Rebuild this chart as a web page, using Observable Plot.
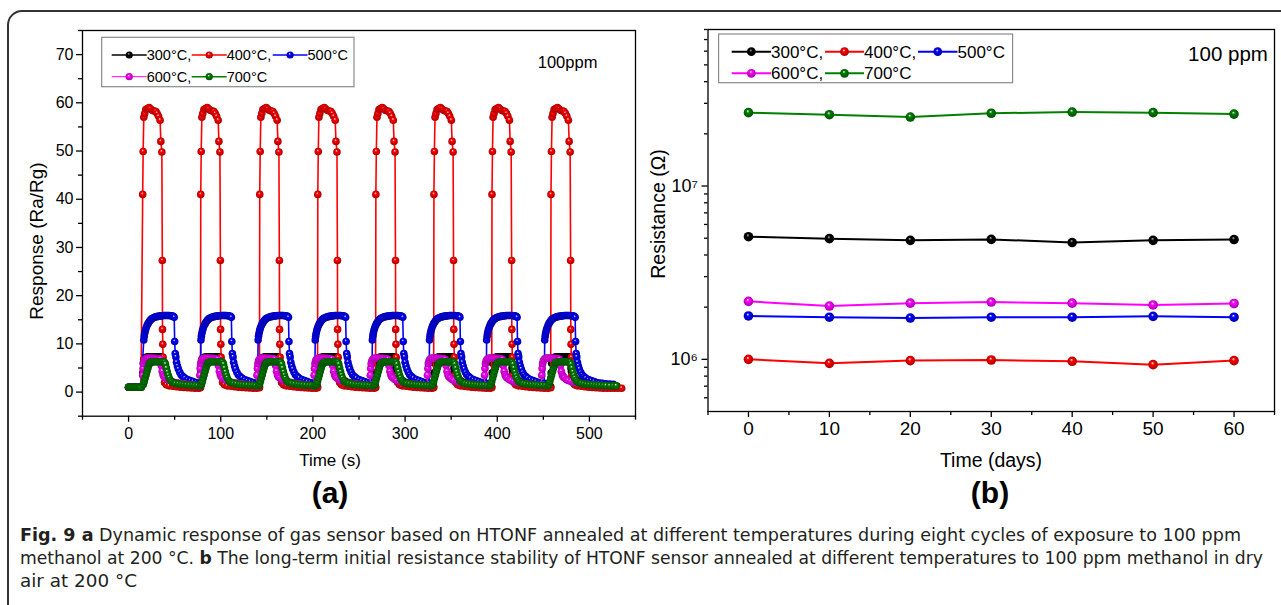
<!DOCTYPE html>
<html><head><meta charset="utf-8">
<script src="https://cdn.jsdelivr.net/npm/d3@7"></script>
<script src="https://cdn.jsdelivr.net/npm/@observablehq/plot@0.6"></script>
<style>
html,body{margin:0;padding:0;background:#fff;}
body{width:1281px;height:605px;overflow:hidden;position:relative;font-family:"Liberation Sans",Arial,sans-serif;}
#a{position:absolute;left:0;top:0;}
#b{position:absolute;left:640px;top:0;}
#over{position:absolute;left:0;top:0;pointer-events:none;}
</style></head><body>
<div id="a"></div><div id="b"></div>
<svg id="over" width="1281" height="605"></svg>
<script>
// ---------- series names / colours ----------
const seriesNames = ["300°C", "400°C", "500°C", "600°C", "700°C"];
const seriesColors = ["#000000", "#ff0000", "#0000ff", "#ff00ff", "#008000"];
const seriesDark = ["#000000", "#a00000", "#0000a0", "#a000a0", "#004a00"];

// ---------- panel (a): dynamic response, 8 cycles ----------
const xTicksA = [0, 100, 200, 300, 400, 500];
const xMinorA = [-50, 50, 150, 250, 350, 450, 550];
const yTicksA = [0, 10, 20, 30, 40, 50, 60, 70];
const yMinorA = [-5, 5, 15, 25, 35, 45, 55, 65, 75];

// lead-in before the first exposure (time s, response)
const leadT = [0, 1.5, 3, 4.5, 6, 7.5, 9, 10.5, 12, 13.5];
const leadV = [1.0, 1.0, 1.0, 1.0, 1.0, 1.0, 1.0, 1.0, 1.0, 1.0];

// 300 °C (black): cycle start times and one-cycle profile
const starts300 = [15, 78, 142, 205, 268, 331, 394, 458];
const dt300 = [0, 0.5, 1, 1.5, 2.5, 4, 6, 8, 10, 12, 14, 16, 18, 20, 21.6, 22, 22.5, 23.5, 25, 27, 30, 34, 38, 42, 46, 50, 54, 58, 62];
const v300 = [1.1, 4, 6, 6.8, 7.1, 7.2, 7.3, 7.3, 7.3, 7.3, 7.3, 7.3, 7.3, 7.3, 7.2, 5.0, 4.3, 3.8, 3.2, 2.7, 2.3, 2.0, 1.8, 1.6, 1.5, 1.4, 1.35, 1.3, 1.25];

// 400 °C (red)
const starts400 = [15, 78, 142, 205, 268, 331, 394, 458];
const dt400 = [0, 0.3, 0.8, 1.5, 2.5, 3.7, 5.5, 7.3, 9, 11, 13, 14.6, 16, 17.5, 19.2, 20, 21.1, 21.6, 21.8, 22.1, 22.4, 23, 24, 26, 29, 33, 37, 41, 45, 49, 53, 57, 61];
const v400 = [0.9, 41, 49.9, 57, 57.8, 58.6, 58.8, 59, 58.7, 58.4, 58.3, 58.2, 57.8, 57.2, 56.4, 52, 49.8, 27.3, 13, 9.9, 7.2, 3.5, 2.0, 1.5, 1.3, 1.2, 1.1, 1.0, 0.95, 0.9, 0.85, 0.8, 0.8];

// 500 °C (blue)
const starts500 = [16, 78, 140, 202, 264, 326, 388, 451];
const dt500 = [0, 0.5, 1, 1.5, 2.2, 3, 4, 5, 6, 7, 8, 9, 10, 11.5, 13, 14.5, 16, 17.5, 19, 20.5, 22, 23.5, 25, 26.5, 28, 29.5, 31, 32.5, 33.5, 34, 34.6, 35.3, 36, 37, 38, 39.5, 41, 43, 45, 48, 51, 54, 57, 60];
const v500 = [1.8, 10.8, 11.6, 12.2, 12.8, 13.3, 13.8, 14.2, 14.5, 14.8, 15.0, 15.2, 15.3, 15.45, 15.55, 15.65, 15.7, 15.75, 15.8, 15.85, 15.9, 15.9, 15.9, 15.9, 15.9, 15.85, 15.8, 15.7, 15.5, 10.5, 8.0, 7.3, 6.2, 5.4, 4.8, 4.1, 3.6, 3.2, 2.9, 2.6, 2.4, 2.2, 2.0, 1.9];

// 600 °C (magenta)
const starts600 = [15, 77, 139, 201, 262, 324, 386, 448];
const dt600 = [0, 0.3, 0.7, 1.2, 2, 3, 4.5, 6, 8, 10, 12, 14, 16, 18, 19.5, 20.5, 21.5, 22.5, 23.5, 25, 27, 29, 32, 35, 38, 42, 46, 50, 54, 58];
const v600 = [1.2, 3.5, 4.9, 5.9, 6.5, 6.8, 7.0, 7.05, 7.05, 7.05, 7.0, 7.0, 6.95, 6.9, 6.8, 5.5, 4.3, 3.6, 3.2, 2.9, 2.6, 2.4, 2.2, 2.0, 1.9, 1.8, 1.7, 1.6, 1.5, 1.4];

// 700 °C (green)
const starts700 = [15, 78, 141, 203, 266, 329, 392, 455];
const dt700 = [0, 1, 2, 3, 4, 5, 6, 7, 8, 9, 10.5, 12, 13.5, 15, 16.5, 18, 19.5, 21, 22.5, 24, 25, 26, 27, 28, 29, 30.5, 32, 34, 36, 39, 42, 45, 48, 51, 54, 57, 60];
const v700 = [1.3, 1.6, 2.2, 2.9, 3.6, 4.3, 5.0, 5.6, 6.0, 6.2, 6.25, 6.3, 6.3, 6.3, 6.3, 6.3, 6.3, 6.3, 6.25, 6.2, 5.8, 5.0, 4.2, 3.5, 2.9, 2.4, 2.1, 1.9, 1.8, 1.7, 1.6, 1.55, 1.5, 1.45, 1.4, 1.4, 1.35];

// tails after the last cycle
const tailT300 = [522, 526, 530], tailV300 = [1.25, 1.2, 1.2];
const tailT400 = [523, 527, 531, 535], tailV400 = [0.8, 0.8, 0.8, 0.8];
const tailT500 = [514, 518, 522, 526], tailV500 = [1.8, 1.7, 1.65, 1.6];
const tailT600 = [510, 514, 518], tailV600 = [1.35, 1.3, 1.3];
const tailT700 = [518, 522, 526, 529], tailV700 = [1.35, 1.3, 1.3, 1.3];

// ---------- panel (b): long-term resistance ----------
const days = [0, 10, 20, 30, 40, 50, 60];
const res300 = [5.10e6, 4.97e6, 4.86e6, 4.92e6, 4.72e6, 4.86e6, 4.91e6];
const res400 = [1.00e6, 0.948e6, 0.983e6, 0.991e6, 0.974e6, 0.932e6, 0.983e6];
const res500 = [1.78e6, 1.75e6, 1.73e6, 1.75e6, 1.75e6, 1.77e6, 1.75e6];
const res600 = [2.16e6, 2.03e6, 2.11e6, 2.14e6, 2.11e6, 2.06e6, 2.10e6];
const res700 = [2.65e7, 2.58e7, 2.50e7, 2.63e7, 2.67e7, 2.65e7, 2.60e7];
const xTicksB = [0, 10, 20, 30, 40, 50, 60];
const xMinorB = [-5, 5, 15, 25, 35, 45, 55, 65];
const yTicksB = [1e6, 1e7];
const yMinorB = [6e5, 7e5, 8e5, 9e5, 2e6, 3e6, 4e6, 5e6, 6e6, 7e6, 8e6, 9e6, 2e7, 3e7, 4e7, 5e7, 6e7, 7e7, 8e7];

// ---------- build tables ----------
function buildSeries(name, starts, dts, vals, tailT, tailV) {
  const rows = leadT.map((t, i) => ({s: name, t, v: leadV[i]}));
  starts.forEach(s0 => dts.forEach((d, i) => { if (!(s0 === starts[0] && d === 0)) rows.push({s: name, t: s0 + d, v: vals[i]}); }));
  tailT.forEach((t, i) => rows.push({s: name, t, v: tailV[i]}));
  return rows;
}
const dataA = [
  buildSeries(seriesNames[0], starts300, dt300, v300, tailT300, tailV300),
  buildSeries(seriesNames[1], starts400, dt400, v400, tailT400, tailV400),
  buildSeries(seriesNames[2], starts500, dt500, v500, tailT500, tailV500),
  buildSeries(seriesNames[3], starts600, dt600, v600, tailT600, tailV600),
  buildSeries(seriesNames[4], starts700, dt700, v700, tailT700, tailV700)
];
const resAll = [res300, res400, res500, res600, res700];
const dataB = resAll.map((arr, k) => days.map((d, i) => ({s: seriesNames[k], d, r: arr[i]})));

const font = "'Liberation Sans', Arial, sans-serif";
const noLabel = () => "";

// ---------- panel (a) ----------
const marksA = [
  Plot.frame({stroke: "#000", strokeWidth: 1.3}),
  Plot.axisX({ticks: xTicksA, tickSize: 6, tickPadding: 5, label: null, fontSize: 16, strokeWidth: 1.3}),
  Plot.axisX({ticks: xMinorA, tickSize: 4, tickFormat: noLabel, label: null, strokeWidth: 1.3}),
  Plot.axisY({ticks: yTicksA, tickSize: 6, tickPadding: 3, label: null, fontSize: 16, strokeWidth: 1.3}),
  Plot.axisY({ticks: yMinorA, tickSize: 4, tickFormat: noLabel, label: null, strokeWidth: 1.3})
];
dataA.forEach((rows, k) => {
  marksA.push(Plot.line(rows, {x: "t", y: "v", stroke: seriesColors[k], strokeWidth: k === 3 ? 1.2 : 1.6}));
  marksA.push(Plot.dot(rows, {x: "t", y: "v", r: 3.8, fill: `url(#ga${k})`, stroke: "none"}));
});
const plotA = Plot.plot({
  width: 640, height: 475,
  marginLeft: 82, marginRight: 5, marginTop: 30, marginBottom: 59.3,
  style: {background: "transparent", fontFamily: font, fontSize: "16px", color: "#000"},
  x: {domain: [-50, 550]},
  y: {domain: [-5, 75]},
  marks: marksA
});
document.getElementById("a").append(plotA);

// ---------- panel (b) ----------
const marksB = [
  Plot.frame({stroke: "#000", strokeWidth: 1.3}),
  Plot.axisX({ticks: xTicksB, tickSize: 6, tickPadding: 4, label: null, fontSize: 19, strokeWidth: 1.3}),
  Plot.axisX({ticks: xMinorB, tickSize: 4, tickFormat: noLabel, label: null, strokeWidth: 1.3}),
  Plot.axisY({ticks: yTicksB, tickSize: 6, tickPadding: 4, label: null, fontSize: 18, strokeWidth: 1.3,
    tickFormat: d => d === 1e6 ? "10⁶" : "10⁷"}),
  Plot.axisY({ticks: yMinorB, tickSize: 3.5, tickFormat: noLabel, label: null, strokeWidth: 1.3})
];
dataB.forEach((rows, k) => {
  marksB.push(Plot.line(rows, {x: "d", y: "r", stroke: seriesColors[k], strokeWidth: 2}));
  marksB.push(Plot.dot(rows, {x: "d", y: "r", r: 4.8, fill: `url(#ga${k})`, stroke: "none"}));
});
const plotB = Plot.plot({
  width: 641, height: 475,
  marginLeft: 67.5, marginRight: 7, marginTop: 29, marginBottom: 64,
  style: {background: "transparent", fontFamily: font, fontSize: "18px", color: "#000"},
  x: {domain: [-5, 65]},
  y: {type: "log", domain: [5e5, 8e7]},
  marks: marksB
});
document.getElementById("b").append(plotB);

// ---------- overlay: border, gradients, legends, titles, caption ----------
const svg = d3.select("#over");
const defs = svg.append("defs");
seriesColors.forEach((c, k) => {
  const g = defs.append("radialGradient").attr("id", `ga${k}`)
    .attr("cx", "0.5").attr("cy", "0.5").attr("r", "0.55").attr("fx", "0.42").attr("fy", "0.32");
  g.append("stop").attr("offset", "0").attr("stop-color", k === 0 ? "#bbbbbb" : "#ffffff");
  g.append("stop").attr("offset", "0.3").attr("stop-color", c);
  g.append("stop").attr("offset", "1").attr("stop-color", seriesDark[k]);
});
svg.append("rect").attr("x", 8).attr("y", 11).attr("width", 1300).attr("height", 640)
  .attr("rx", 14).attr("fill", "none").attr("stroke", "#333").attr("stroke-width", 2);

function legend(box, rows, fs, r, lw) {
  svg.append("rect").attr("x", box[0]).attr("y", box[1]).attr("width", box[2] - box[0]).attr("height", box[3] - box[1])
    .attr("fill", "#fff").attr("stroke", "#8a8a8a").attr("stroke-width", 1.2);
  rows.forEach(e => {
    svg.append("line").attr("x1", e.x0).attr("x2", e.x1).attr("y1", e.y).attr("y2", e.y)
      .attr("stroke", seriesColors[e.k]).attr("stroke-width", e.k === 3 && lw < 2 ? 1 : lw);
    svg.append("circle").attr("cx", (e.x0 + e.x1) / 2).attr("cy", e.y).attr("r", r).attr("fill", `url(#ga${e.k})`);
    svg.append("text").attr("x", e.x1).attr("y", e.y).attr("dy", "0.36em")
      .attr("font-family", font).attr("font-size", fs).text(e.t);
  });
}
legend([101.7, 37.3, 354, 86.7], [
  {k: 0, x0: 111.7, x1: 146.7, y: 55, t: seriesNames[0] + ","},
  {k: 1, x0: 191.7, x1: 226.7, y: 55, t: seriesNames[1] + ","},
  {k: 2, x0: 272.7, x1: 307.5, y: 55, t: seriesNames[2]},
  {k: 3, x0: 111.7, x1: 146.7, y: 76.7, t: seriesNames[3] + ","},
  {k: 4, x0: 191.7, x1: 226.7, y: 76.7, t: seriesNames[4]}
], 14.5, 3.6, 1.5);
legend([718.6, 34, 1012.6, 82.7], [
  {k: 0, x0: 731.7, x1: 771, y: 51.7, t: seriesNames[0] + ","},
  {k: 1, x0: 825, x1: 864, y: 51.7, t: seriesNames[1] + ","},
  {k: 2, x0: 918, x1: 957.5, y: 51.7, t: seriesNames[2]},
  {k: 3, x0: 731.7, x1: 771, y: 73.3, t: seriesNames[3] + ","},
  {k: 4, x0: 825, x1: 864, y: 73.3, t: seriesNames[4]}
], 17, 4.4, 2);

function txt(x, y, s, fs, opts = {}) {
  const t = svg.append("text").attr("x", x).attr("y", y).attr("font-family", font).attr("font-size", fs)
    .attr("text-anchor", opts.anchor || "middle").attr("dy", "0.36em").text(s);
  if (opts.bold) t.attr("font-weight", "bold");
  if (opts.rot) t.attr("transform", `rotate(-90 ${x} ${y})`);
  return t;
}
txt(567.6, 62.3, "100ppm", 16.5);
txt(1228, 54, "100 ppm", 20.5);
txt(36, 241, "Response (Ra/Rg)", 19);
txt(658, 214, "Resistance (Ω)", 19.5, {rot: true});
txt(330, 460, "Time (s)", 17);
txt(991, 460, "Time (days)", 19.5);
txt(330, 492, "(a)", 30, {bold: true});
txt(990, 492, "(b)", 30, {bold: true});
d3.selectAll("#over text").filter(function(){ return this.textContent === "Response (Ra/Rg)"; })
  .attr("transform", "rotate(-90 36 241)");

// caption
const capFont = "'Liberation Sans Narrow', 'DejaVu Sans Condensed', 'Liberation Sans', Arial, sans-serif";
function capLine(y, parts, len) {
  const t = svg.append("text").attr("x", 20).attr("y", y).attr("font-family", capFont).attr("font-size", 18)
    .attr("fill", "#231f20").attr("textLength", len).attr("lengthAdjust", "spacingAndGlyphs");
  parts.forEach(p => t.append("tspan").attr("font-weight", p[1] ? "bold" : "normal").text(p[0]));
}
capLine(541, [["Fig. 9", 1], [" a", 1], [" Dynamic response of gas sensor based on HTONF annealed at different temperatures during eight cycles of exposure to 100 ppm", 0]], 1221);
capLine(564, [["methanol at 200 °C. ", 0], ["b", 1], [" The long-term initial resistance stability of HTONF sensor annealed at different temperatures to 100 ppm methanol in dry", 0]], 1243);
capLine(587, [["air at 200 °C", 0]], 117);
</script>
</body></html>
